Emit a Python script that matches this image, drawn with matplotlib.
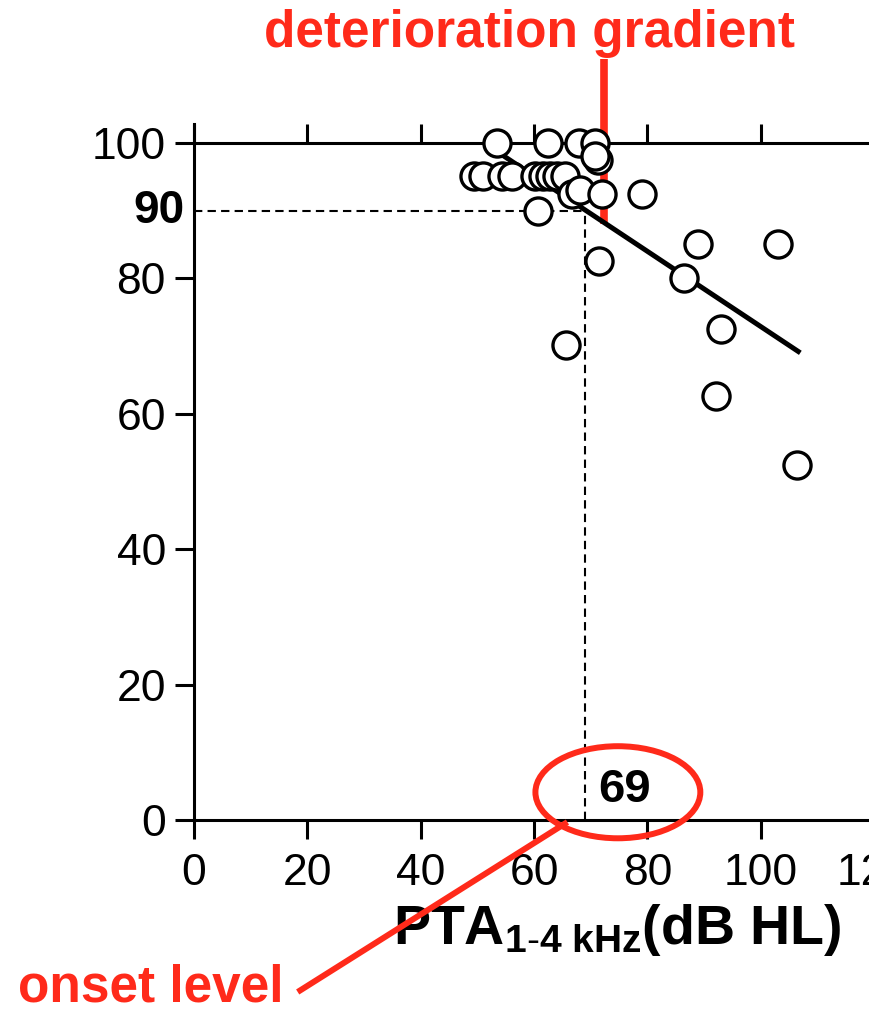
import matplotlib
matplotlib.use("Agg")
import matplotlib.pyplot as plt
from matplotlib.patches import Ellipse

plt.rcParams['font.family'] = ['Liberation Sans', 'DejaVu Sans']
plt.rcParams['mathtext.fontset'] = 'custom'
plt.rcParams['mathtext.rm'] = 'Liberation Sans'
plt.rcParams['mathtext.bf'] = 'Liberation Sans:bold'
plt.rcParams['mathtext.it'] = 'Liberation Sans:italic'

RED = '#ff2a1a'

# data: PTA (dB HL) vs score (%)
pta = [53.5, 62.5, 68.0, 70.8, 71.3, 70.8,
       49.4, 51.0, 54.4, 56.1, 60.2, 61.6, 62.8, 64.1, 65.5,
       66.7, 68.1, 72.0, 79.1,
       60.7, 71.5, 65.6, 86.5, 89.0, 103.1, 93.0, 92.1, 106.4]
score = [100, 100, 100, 100, 97.5, 98.0,
         95.1, 95.1, 95.1, 95.1, 95.1, 95.1, 95.1, 95.1, 95.1,
         92.5, 93.0, 92.5, 92.5,
         89.9, 82.5, 70.1, 80.0, 85.1, 85.1, 72.5, 62.6, 52.5]

# fitted deterioration line
fit_x = [53, 107]
fit_y = [99.0, 69.0]

onset = 69
onset_score = 90
gradient_x = 72.3

xticks = [0, 20, 40, 60, 80, 100, 120]
yticks = [0, 20, 40, 60, 80, 100]

fig = plt.figure(figsize=(8.7, 10.14), dpi=100)
ax = fig.add_axes([194 / 870, 194 / 1014, 680 / 870, 696 / 1014])
ax.set_xlim(0, 120)
ax.set_ylim(0, 102.8)

# dashed guide lines at onset
ax.plot([0, onset], [onset_score, onset_score], color='black', lw=1.5,
        ls=(0, (4, 2.5)), zorder=2)
ax.plot([onset, onset], [0, onset_score], color='black', lw=1.5,
        ls=(0, (4, 2.5)), zorder=2)

# red marker for gradient
ax.plot([gradient_x, gradient_x], [88, 112.4], color=RED, lw=5.5,
        solid_capstyle='butt', clip_on=False, zorder=2)

ax.plot(fit_x, fit_y, color='black', lw=3.6, solid_capstyle='butt', zorder=3)
ax.plot(pta, score, 'o', ms=19.5, mfc='white', mec='black', mew=2.4,
        zorder=4, clip_on=False)

for side in ['top', 'right']:
    ax.spines[side].set_visible(False)
for side in ['left', 'bottom']:
    ax.spines[side].set_linewidth(2.2)

ax.set_xticks(xticks)
ax.set_yticks(yticks)
ax.tick_params(direction='out', length=13.7, width=2.2, labelsize=32)
ax.tick_params(axis='y', pad=6.5)
ax.tick_params(axis='x', pad=10)

# top line at 100 with upward ticks
sec = ax.secondary_xaxis(100 / 102.8)
sec.set_xticks(xticks)
sec.tick_params(direction='out', length=13.7, width=2.2, labeltop=False,
                labelbottom=False)
sec.spines['top'].set_linewidth(2.2)

ax.text(-1.6, onset_score, '90', ha='right', va='center', fontsize=33,
        fontweight='bold')
ax.text(71.3, 4.4, '69', ha='left', va='center', fontsize=34,
        fontweight='bold', zorder=5)

ax.add_patch(Ellipse((74.8, 4.1), 29.1, 13.6, fill=False, edgecolor=RED,
                     lw=4.3, clip_on=False, zorder=6))
ax.plot([18.3, 65.9], [-25.4, -0.3], color=RED, lw=4.3, clip_on=False,
        solid_capstyle='butt', zorder=6)

ax.set_xlabel(r'$\mathbf{PTA}_{\mathbf{1\text{-}4\ kHz}}\mathbf{(dB\ HL)}$',
              fontsize=40)
ax.xaxis.set_label_coords(0.622, -0.118)

fig.text(530 / 870, 1 - 33 / 1014, 'deterioration gradient', color=RED,
         fontsize=37, fontweight='bold', ha='center', va='center')
fig.text(18 / 870, 1 - 988 / 1014, 'onset level', color=RED,
         fontsize=37, fontweight='bold', ha='left', va='center')

fig.savefig('out.png', dpi=100)
